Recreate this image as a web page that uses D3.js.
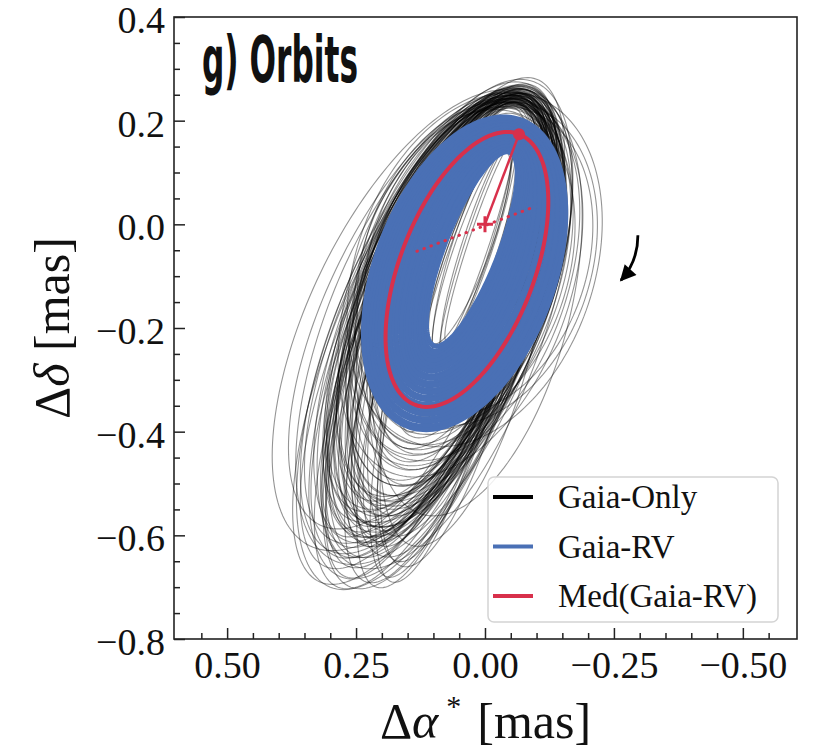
<!DOCTYPE html>
<html>
<head>
<meta charset="utf-8">
<script src="https://cdn.jsdelivr.net/npm/d3@7"></script>
<style>
  body { margin: 0; background: #fff; }
  svg { display: block; }
</style>
</head>
<body>
<div id="chart"></div>
<script>
// Each orbit row: [upper tip x, upper tip y, lower tip x, lower tip y, semi-minor]  (mas)
const gaiaOnlyOrbits = [
    [-0.070, 0.230, 0.150, -0.420, 0.190], [-0.080, 0.240, 0.160, -0.450, 0.200],
    [-0.065, 0.220, 0.145, -0.400, 0.180], [-0.075, 0.250, 0.170, -0.470, 0.170],
    [-0.085, 0.235, 0.180, -0.480, 0.210], [-0.060, 0.215, 0.140, -0.390, 0.200],
    [-0.090, 0.260, 0.190, -0.500, 0.180], [-0.070, 0.245, 0.200, -0.520, 0.150],
    [-0.078, 0.228, 0.175, -0.460, 0.185], [-0.095, 0.255, 0.210, -0.530, 0.180],
    [-0.080, 0.255, 0.240, -0.600, 0.165], [-0.070, 0.240, 0.260, -0.640, 0.145],
    [-0.090, 0.265, 0.280, -0.680, 0.175], [-0.075, 0.250, 0.230, -0.620, 0.130],
    [-0.085, 0.270, 0.300, -0.700, 0.185], [-0.065, 0.235, 0.220, -0.580, 0.155],
    [-0.095, 0.275, 0.250, -0.660, 0.190], [-0.080, 0.260, 0.200, -0.640, 0.140],
    [-0.070, 0.245, 0.270, -0.610, 0.170], [-0.088, 0.262, 0.320, -0.690, 0.170],
    [-0.060, 0.230, 0.210, -0.560, 0.145], [-0.100, 0.280, 0.260, -0.700, 0.160],
    [-0.078, 0.250, 0.290, -0.650, 0.200], [-0.072, 0.242, 0.180, -0.600, 0.125],
    [-0.085, 0.258, 0.240, -0.570, 0.180], [-0.080, 0.250, 0.340, -0.620, 0.210],
    [-0.075, 0.245, 0.320, -0.580, 0.185],
    [-0.055, 0.180, 0.100, -0.300, 0.060], [-0.060, 0.190, 0.120, -0.340, 0.050],
    [-0.050, 0.170, 0.090, -0.280, 0.070], [-0.065, 0.200, 0.130, -0.360, 0.045],
    [-0.058, 0.185, 0.110, -0.320, 0.080], [-0.070, 0.205, 0.150, -0.400, 0.060],
    [-0.045, 0.150, 0.095, -0.250, 0.035], [-0.050, 0.160, 0.085, -0.260, 0.025],
    [-0.040, 0.140, 0.100, -0.230, 0.040], [-0.055, 0.170, 0.080, -0.240, 0.030],
    [-0.048, 0.165, 0.090, -0.270, 0.045], [-0.052, 0.155, 0.075, -0.225, 0.020],
    [-0.090, 0.230, 0.120, -0.380, 0.220], [-0.100, 0.245, 0.140, -0.420, 0.230],
    [-0.085, 0.220, 0.110, -0.360, 0.210],
    [-0.075, 0.235, 0.200, -0.540, 0.160], [-0.082, 0.245, 0.215, -0.560, 0.150],
    [-0.070, 0.238, 0.190, -0.500, 0.175], [-0.088, 0.250, 0.225, -0.580, 0.170],
    [-0.076, 0.242, 0.205, -0.530, 0.140], [-0.068, 0.228, 0.185, -0.490, 0.155],
    [-0.090, 0.256, 0.235, -0.590, 0.160], [-0.080, 0.240, 0.170, -0.500, 0.135],
    [-0.073, 0.232, 0.195, -0.520, 0.165], [-0.084, 0.248, 0.250, -0.600, 0.145],
    [-0.066, 0.226, 0.160, -0.470, 0.150], [-0.079, 0.244, 0.210, -0.545, 0.180],
    [-0.072, 0.225, 0.150, -0.440, 0.150], [-0.068, 0.222, 0.160, -0.430, 0.130],
    [-0.080, 0.232, 0.165, -0.455, 0.140], [-0.062, 0.212, 0.135, -0.380, 0.120],
    [-0.074, 0.228, 0.140, -0.410, 0.110], [-0.058, 0.205, 0.125, -0.370, 0.100],
    [-0.060, 0.235, 0.160, -0.660, 0.110], [-0.070, 0.240, 0.140, -0.620, 0.135],
    [-0.090, 0.250, 0.120, -0.560, 0.180], [-0.055, 0.225, 0.180, -0.690, 0.095],
    [-0.075, 0.240, 0.230, -0.560, 0.140], [-0.082, 0.250, 0.260, -0.590, 0.150],
    [-0.070, 0.236, 0.245, -0.545, 0.165], [-0.088, 0.258, 0.275, -0.620, 0.145],
    [-0.078, 0.246, 0.215, -0.610, 0.130], [-0.066, 0.232, 0.255, -0.600, 0.160],
    [-0.092, 0.262, 0.290, -0.640, 0.155], [-0.074, 0.244, 0.225, -0.580, 0.170],
    [-0.080, 0.252, 0.265, -0.660, 0.140], [-0.086, 0.256, 0.300, -0.630, 0.175],
    [-0.072, 0.238, 0.235, -0.530, 0.150], [-0.084, 0.250, 0.280, -0.600, 0.130],
    [-0.068, 0.234, 0.205, -0.590, 0.120], [-0.090, 0.264, 0.310, -0.660, 0.160],
    [-0.077, 0.248, 0.250, -0.640, 0.150], [-0.081, 0.240, 0.220, -0.520, 0.170],
    [-0.073, 0.246, 0.270, -0.680, 0.130], [-0.087, 0.254, 0.245, -0.610, 0.165],
    [-0.069, 0.230, 0.190, -0.560, 0.145], [-0.093, 0.268, 0.285, -0.700, 0.150],
    [-0.079, 0.247, 0.235, -0.620, 0.115], [-0.083, 0.251, 0.260, -0.570, 0.160],
    [-0.071, 0.239, 0.215, -0.540, 0.130], [-0.089, 0.257, 0.295, -0.610, 0.170],
    [-0.062, 0.232, 0.190, -0.680, 0.100], [-0.066, 0.236, 0.210, -0.700, 0.115],
    [-0.058, 0.228, 0.170, -0.650, 0.105], [-0.064, 0.234, 0.230, -0.690, 0.125],
    [-0.078, 0.238, 0.160, -0.430, 0.170], [-0.083, 0.244, 0.170, -0.440, 0.180],
    [-0.074, 0.232, 0.155, -0.420, 0.160], [-0.076, 0.243, 0.240, -0.580, 0.135],
    [-0.071, 0.237, 0.220, -0.600, 0.120], [-0.085, 0.252, 0.255, -0.550, 0.155],
    [-0.067, 0.233, 0.200, -0.620, 0.110], [-0.081, 0.249, 0.275, -0.640, 0.140]
];

const gaiaRvOrbits = [
    [-0.048, 0.139, 0.099, -0.234, 0.052], [-0.050, 0.144, 0.103, -0.243, 0.057],
    [-0.049, 0.146, 0.104, -0.250, 0.063], [-0.052, 0.149, 0.108, -0.256, 0.066],
    [-0.051, 0.152, 0.110, -0.262, 0.072], [-0.054, 0.153, 0.111, -0.270, 0.076],
    [-0.053, 0.157, 0.114, -0.276, 0.083], [-0.056, 0.158, 0.116, -0.281, 0.086],
    [-0.055, 0.162, 0.117, -0.290, 0.092], [-0.058, 0.164, 0.120, -0.294, 0.099],
    [-0.057, 0.168, 0.121, -0.303, 0.103], [-0.060, 0.169, 0.125, -0.308, 0.110],
    [-0.059, 0.173, 0.126, -0.317, 0.113], [-0.062, 0.174, 0.128, -0.321, 0.121],
    [-0.061, 0.178, 0.131, -0.330, 0.124], [-0.064, 0.180, 0.132, -0.334, 0.131],
    [-0.063, 0.184, 0.135, -0.343, 0.135], [-0.066, 0.185, 0.136, -0.348, 0.142],
    [-0.065, 0.189, 0.139, -0.356, 0.145], [-0.068, 0.190, 0.141, -0.361, 0.152],
    [-0.067, 0.194, 0.144, -0.370, 0.156], [-0.070, 0.196, 0.145, -0.375, 0.163],
    [-0.069, 0.199, 0.148, -0.384, 0.167], [-0.071, 0.201, 0.150, -0.390, 0.173]
];

const medianOrbit = [-0.066, 0.174, 0.136, -0.348, 0.130];
const periastron = [-0.066, 0.174];
const starPos = [0, 0];
const nodeLine = [[0.132, -0.052], [-0.099, 0.035]];
// motion arrow: start, control, end (mas)
const motionArrow = [[-0.2965, -0.021], [-0.2965, -0.072], [-0.2636, -0.108]];

const xTicks = [0.5, 0.25, 0, -0.25, -0.5];
const yTicks = [0.4, 0.2, 0.0, -0.2, -0.4, -0.6, -0.8];
const legendLabels = ["Gaia-Only", "Gaia-RV", "Med(Gaia-RV)"];
const legendColors = ["#000000", "#4a70b5", "#d8304b"];

const W = 821, H = 752;
const margin = { top: 17, right: 24, bottom: 113, left: 174 };
const width = W - margin.left - margin.right;
const height = H - margin.top - margin.bottom;
const serif = "'Liberation Serif', 'Times New Roman', serif";

const svg = d3.select("#chart")
    .append("svg")
    .attr("width", W)
    .attr("height", H)
    .append("g")
    .attr("transform", `translate(${margin.left},${margin.top})`);

const x = d3.scaleLinear().domain([0.603, -0.605]).range([0, width]);
const y = d3.scaleLinear().domain([-0.8, 0.4]).range([height, 0]);

svg.append("clipPath").attr("id", "clip")
    .append("rect").attr("width", width).attr("height", height);

// ellipse outline from the orbit row
function ellipse(o) {
    const [tx, ty, ex, ey, b] = o;
    const cx = (tx + ex) / 2, cy = (ty + ey) / 2;
    const a = Math.hypot(tx - ex, ty - ey) / 2;
    const ux = (tx - cx) / a, uy = (ty - cy) / a;
    return d3.range(0, 360, 2).map(deg => {
        const p = deg * Math.PI / 180;
        return [cx + a * Math.cos(p) * ux - b * Math.sin(p) * uy,
                cy + a * Math.cos(p) * uy + b * Math.sin(p) * ux];
    });
}

const line = d3.line()
    .x(d => x(d[0]))
    .y(d => y(d[1]))
    .curve(d3.curveLinearClosed);

const plot = svg.append("g").attr("clip-path", "url(#clip)");

// Gaia-only orbits
plot.append("g").selectAll("path")
    .data(gaiaOnlyOrbits)
    .enter()
    .append("path")
    .attr("d", d => line(ellipse(d)))
    .attr("fill", "none")
    .attr("stroke", "#000")
    .attr("stroke-opacity", 0.42)
    .attr("stroke-width", 1.1);

// Gaia-RV orbits
plot.append("g").selectAll("path")
    .data(gaiaRvOrbits)
    .enter()
    .append("path")
    .attr("d", d => line(ellipse(d)))
    .attr("fill", "none")
    .attr("stroke", legendColors[1])
    .attr("stroke-width", 5);

// median orbit
plot.append("path")
    .attr("d", line(ellipse(medianOrbit)))
    .attr("fill", "none")
    .attr("stroke", legendColors[2])
    .attr("stroke-width", 4);

// line of nodes
plot.append("path")
    .attr("d", d3.line().x(d => x(d[0])).y(d => y(d[1]))(nodeLine))
    .attr("stroke", legendColors[2])
    .attr("stroke-width", 3)
    .attr("stroke-linecap", "round")
    .attr("stroke-dasharray", "0.5,7");

// star to periastron
plot.append("path")
    .attr("d", d3.line().x(d => x(d[0])).y(d => y(d[1]))([starPos, periastron]))
    .attr("stroke", legendColors[2])
    .attr("stroke-width", 2.5);

plot.append("circle")
    .attr("cx", x(periastron[0]))
    .attr("cy", y(periastron[1]))
    .attr("r", 6)
    .attr("fill", legendColors[2]);

plot.append("path")
    .attr("d", `M${x(starPos[0]) - 8},${y(starPos[1])}h16M${x(starPos[0])},${y(starPos[1]) - 8}v16`)
    .attr("stroke", legendColors[2])
    .attr("stroke-width", 3);

// motion arrow
svg.append("defs").append("marker")
    .attr("id", "head")
    .attr("viewBox", "0 0 10 10")
    .attr("refX", 9).attr("refY", 5)
    .attr("markerUnits", "userSpaceOnUse")
    .attr("markerWidth", 18).attr("markerHeight", 16)
    .attr("orient", "auto")
    .append("path")
    .attr("d", "M0,0L10,5L0,10z")
    .attr("fill", "#000");

const [a0, a1, a2] = motionArrow;
svg.append("path")
    .attr("d", `M${x(a0[0])},${y(a0[1])}Q${x(a1[0])},${y(a1[1])} ${x(a2[0])},${y(a2[1])}`)
    .attr("fill", "none")
    .attr("stroke", "#000")
    .attr("stroke-width", 2.8)
    .attr("marker-end", "url(#head)");

// axes
const axisColor = "#222";
const xMinor = d3.range(-0.55, 0.6, 0.05).filter(v => Math.abs(v * 4 - Math.round(v * 4)) > 1e-6);
const yMinor = d3.range(-0.8, 0.4, 0.05).filter(v => Math.abs(v * 5 - Math.round(v * 5)) > 1e-6);

svg.append("g")
    .attr("transform", `translate(0,${height})`)
    .call(d3.axisBottom(x).tickValues(xMinor).tickSize(-6).tickFormat(""))
    .call(g => g.select(".domain").remove());

svg.append("g")
    .call(d3.axisLeft(y).tickValues(yMinor).tickSize(-6).tickFormat(""))
    .call(g => g.select(".domain").remove());

svg.append("g")
    .attr("transform", `translate(0,${height})`)
    .call(d3.axisBottom(x).tickValues(xTicks).tickSize(-11).tickPadding(12).tickFormat(d3.format(".2f")))
    .call(g => g.select(".domain").remove());

svg.append("g")
    .attr("class", "y-major")
    .call(d3.axisLeft(y).tickValues(yTicks).tickSize(-11).tickPadding(9).tickFormat(d3.format(".1f")))
    .call(g => g.select(".domain").remove());

svg.selectAll(".tick line").attr("stroke", axisColor).attr("stroke-width", 1.5);
svg.selectAll(".tick text")
    .attr("fill", "#111")
    .style("font-family", serif)
    .style("font-size", "38px");
svg.selectAll(".y-major .tick text").attr("dy", "0.41em");

svg.append("rect")
    .attr("width", width)
    .attr("height", height)
    .attr("fill", "none")
    .attr("stroke", axisColor)
    .attr("stroke-width", 1.6);

// axis labels
const xl = svg.append("text")
    .attr("x", width / 2)
    .attr("y", 721)
    .attr("text-anchor", "middle")
    .style("font-family", serif)
    .style("font-size", "50px")
    .attr("fill", "#111");
xl.append("tspan").text("Δ");
xl.append("tspan").style("font-style", "italic").text("α");
xl.append("tspan").attr("dx", 8).attr("dy", -22).style("font-size", "30px").text("*");
xl.append("tspan").attr("dx", 16).attr("dy", 22).text("[mas]");

const yl = svg.append("text")
    .attr("transform", `translate(${69 - margin.left},${height / 2}) rotate(-90)`)
    .attr("text-anchor", "middle")
    .style("font-family", serif)
    .style("font-size", "50px")
    .attr("fill", "#111");
yl.append("tspan").text("Δ");
yl.append("tspan").style("font-style", "italic").text("δ");
yl.append("tspan").text(" [mas]");

// panel title
svg.append("text")
    .attr("x", 202 - margin.left)
    .attr("y", 82 - margin.top)
    .attr("textLength", 156)
    .attr("lengthAdjust", "spacingAndGlyphs")
    .style("font-family", "'Liberation Sans Narrow', 'DejaVu Sans Condensed', 'DejaVu Sans', sans-serif")
    .style("font-weight", "bold")
    .style("font-size", "64px")
    .attr("fill", "#111")
    .text("g) Orbits");

// legend
const legend = svg.append("g")
    .attr("transform", `translate(${488 - margin.left},${477 - margin.top})`);

legend.append("rect")
    .attr("width", 290)
    .attr("height", 145)
    .attr("rx", 6)
    .attr("fill", "#fff")
    .attr("fill-opacity", 0.85)
    .attr("stroke", "#d4d4d4")
    .attr("stroke-width", 1.5);

const items = legend.selectAll(".item")
    .data(legendLabels)
    .enter()
    .append("g")
    .attr("transform", (d, i) => `translate(0,${20 + i * 49.5})`);

items.append("line")
    .attr("x1", 5).attr("x2", 45)
    .attr("stroke", (d, i) => legendColors[i])
    .attr("stroke-width", 4);

items.append("text")
    .attr("x", 70)
    .attr("y", 11)
    .style("font-family", serif)
    .style("font-size", "33px")
    .attr("fill", "#111")
    .text(d => d);
</script>
</body>
</html>
